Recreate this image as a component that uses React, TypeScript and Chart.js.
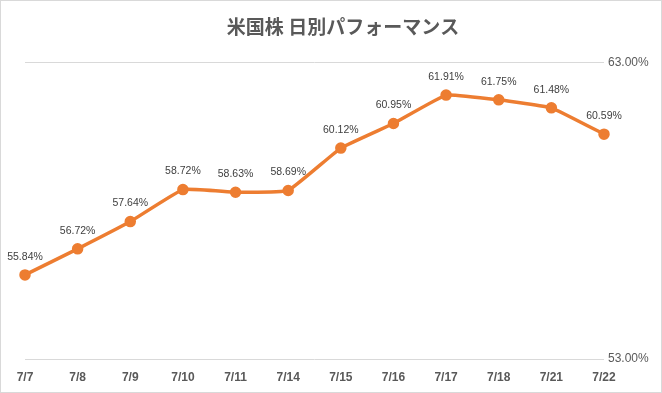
import React, { useEffect, useRef } from "react";
import { Chart, registerables } from "chart.js";

Chart.register(...registerables);

const categories = ["7/7", "7/8", "7/9", "7/10", "7/11", "7/14", "7/15", "7/16", "7/17", "7/18", "7/21", "7/22"];
const performance = [55.84, 56.72, 57.64, 58.72, 58.63, 58.69, 60.12, 60.95, 61.91, 61.75, 61.48, 60.59];
const yTicks = [53, 63];
const chartTitle = "米国株 日別パフォーマンス";

const dataLabelPlugin = {
  id: "dataLabels",
  afterDatasetsDraw(chart: any) {
    const ctx = chart.ctx;
    const meta = chart.getDatasetMeta(0);
    ctx.save();
    ctx.font = "10.5px 'Liberation Sans', sans-serif";
    ctx.fillStyle = "#404040";
    ctx.textAlign = "center";
    ctx.textBaseline = "middle";
    meta.data.forEach((pt: any, i: number) => {
      ctx.fillText(performance[i].toFixed(2) + "%", pt.x, pt.y - 18);
    });
    ctx.restore();
  },
};

export default function App() {
  const ref = useRef<HTMLCanvasElement>(null);
  useEffect(() => {
    if (!ref.current) return;
    const chart = new Chart(ref.current, {
      type: "line",
      data: {
        labels: categories,
        datasets: [
          {
            data: performance,
            borderColor: "#ED7D31",
            backgroundColor: "#ED7D31",
            borderWidth: 3.5,
            pointRadius: 4,
            pointBackgroundColor: "#ED7D31",
            pointBorderColor: "#ED7D31",
            tension: 0.1,
            cubicInterpolationMode: "default",
          },
        ],
      },
      options: {
        animation: false,
        responsive: false,
        maintainAspectRatio: false,
        layout: { padding: { left: 24, right: 0, top: 0, bottom: 7 } },
        plugins: {
          legend: { display: false },
          tooltip: { enabled: false },
          title: {
            display: true,
            text: chartTitle,
            color: "#595959",
            font: { family: "'Noto Sans CJK JP', sans-serif", size: 19, weight: "bold" },
            padding: { top: 14, bottom: 25 },
          },
        },
        scales: {
          x: {
            offset: false,
            grid: { display: false, drawTicks: false },
            border: { display: false },
            afterFit(axis: any) {
              axis.height = 26;
            },
            ticks: {
              color: "#595959",
              font: { family: "'Liberation Sans', sans-serif", size: 12, weight: "bold" },
              padding: 11,
              maxRotation: 0,
              autoSkip: false,
            },
          },
          y: {
            position: "right",
            min: 53,
            max: 63,
            afterBuildTicks(axis: any) {
              axis.ticks = yTicks.map((v) => ({ value: v }));
            },
            afterFit(axis: any) {
              axis.width = 57;
            },
            grid: { color: "#d9d9d9", lineWidth: 1, drawTicks: false },
            border: { display: false },
            ticks: {
              color: "#595959",
              padding: 4,
              font: { family: "'Liberation Sans', sans-serif", size: 12 },
              callback: (v: any) => Number(v).toFixed(2) + "%",
            },
          },
        },
      },
      plugins: [dataLabelPlugin],
    } as any);
    return () => chart.destroy();
  }, []);
  return (
    <div
      style={{
        position: "fixed",
        left: 0,
        top: 0,
        width: 662,
        height: 393,
        boxSizing: "border-box",
        border: "1px solid #d9d9d9",
        background: "#ffffff",
      }}
    >
      <canvas ref={ref} width={660} height={391} style={{ display: "block" }} />
    </div>
  );
}
